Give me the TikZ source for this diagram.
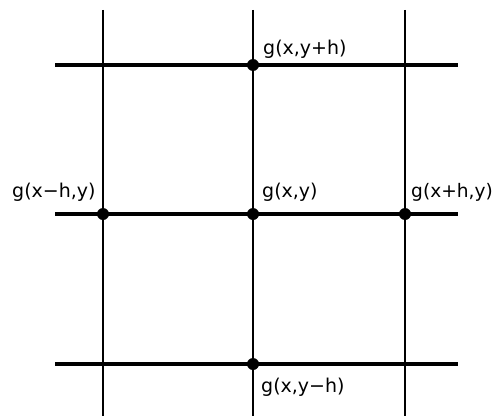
\documentclass[tikz,border=0pt]{standalone}
\usepackage{fontspec}
\setmainfont{DejaVu Sans}
\begin{document}
\begin{tikzpicture}[x=1pt,y=1pt,
  hline/.style={line width=3.6pt},
  vline/.style={line width=1.9pt},
  gdot/.style={circle,fill=black,inner sep=0pt,minimum size=12pt},
  lbl/.style={anchor=base west,inner sep=0pt,font=\fontsize{19}{22}\selectfont}]
\useasboundingbox[fill=white] (0,0) rectangle (494,416);
% grid line end points
\coordinate (v1t) at (103,406); \coordinate (v1b) at (103,0);
\coordinate (v2t) at (253,406); \coordinate (v2b) at (253,0);
\coordinate (v3t) at (405,406); \coordinate (v3b) at (405,0);
\coordinate (h1l) at (55,351); \coordinate (h1r) at (458,351);
\coordinate (h2l) at (55,202); \coordinate (h2r) at (458,202);
\coordinate (h3l) at (55,52);  \coordinate (h3r) at (458,52);
\draw[vline] (v1t) -- (v1b);
\draw[vline] (v2t) -- (v2b);
\draw[vline] (v3t) -- (v3b);
\draw[hline] (h1l) -- (h1r);
\draw[hline] (h2l) -- (h2r);
\draw[hline] (h3l) -- (h3r);
% grid points
\node[gdot] (top) at (253,351) {};
\node[gdot] (left) at (103,202) {};
\node[gdot] (mid) at (253,202) {};
\node[gdot] (right) at (405,202) {};
\node[gdot] (bot) at (253,52) {};
% labels
\node[lbl] (ltop) at (263,361.5) {g(x,y+h)};
\node[lbl] (lleft) at (12,218.5) {g(x−h,y)};
\node[lbl] (lmid) at (262,218.5) {g(x,y)};
\node[lbl,font=\fontsize{18.6}{22}\selectfont] (lright) at (411,218.5) {g(x+h,y)};
\node[lbl] (lbot) at (261,23.5) {g(x,y−h)};
\end{tikzpicture}
\end{document}
